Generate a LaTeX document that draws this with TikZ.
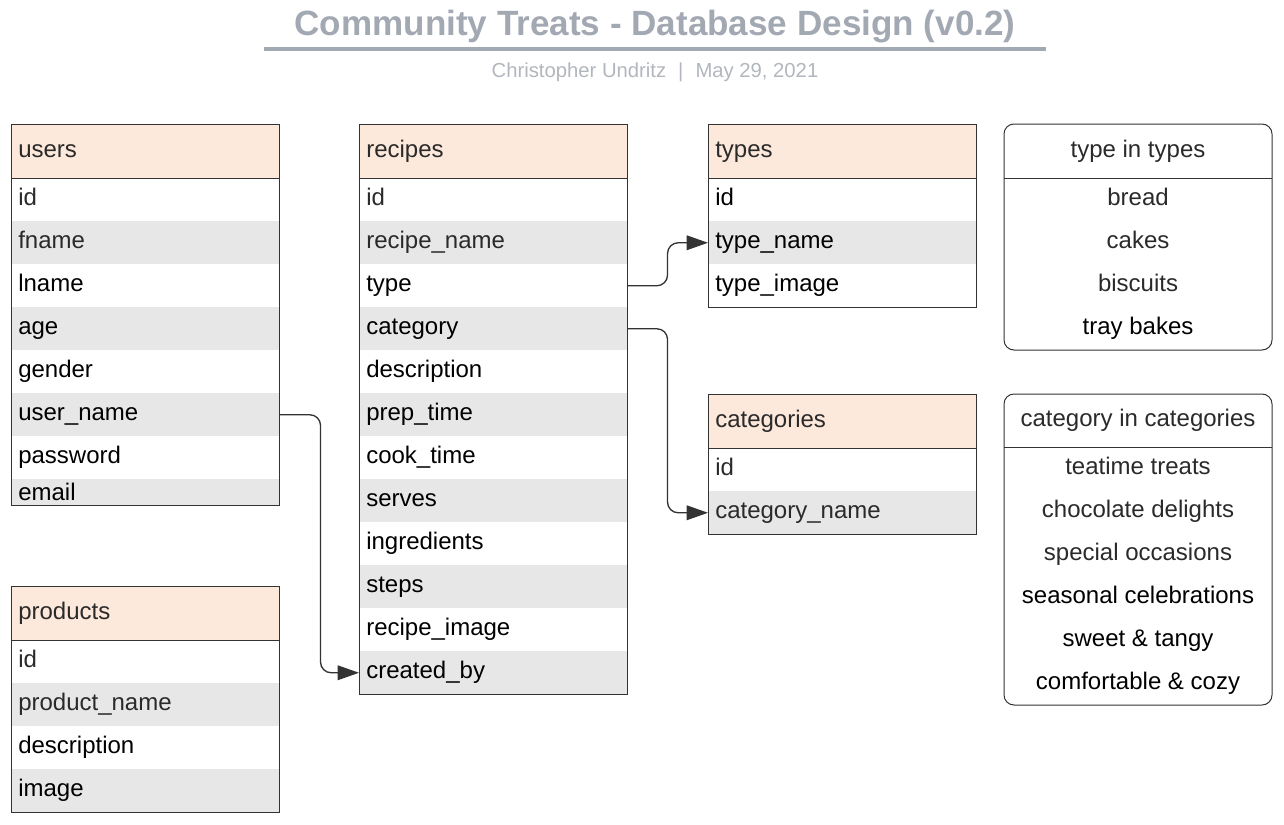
\documentclass[tikz,border=0pt]{standalone}
\usepackage{fontspec}
\setmainfont{Liberation Sans}
\usetikzlibrary{arrows.meta}

\definecolor{hdrfill}{HTML}{FDE9DB}
\definecolor{rowgray}{HTML}{E6E7E6}
\definecolor{dk}{HTML}{2A2A2A}
\definecolor{bk}{HTML}{000000}
\definecolor{edge}{HTML}{333333}
\definecolor{titlegray}{HTML}{A3A9B3}
\definecolor{subgray}{HTML}{B2B6BD}

\tikzset{
  fld/.style={anchor=north west, minimum width=201pt, minimum height=32.25pt,
    text width=190.5pt, align=left, inner xsep=5.25pt, inner ysep=0pt,
    text height=12pt, text depth=3.4pt, font=\fontsize{18}{21}\selectfont},
  hdr/.style={fld, fill=hdrfill, minimum height=40.5pt},
  frame/.style={draw=edge, line width=0.75pt},
  item/.style={anchor=center, inner sep=0pt, text height=12pt, text depth=3.4pt,
    font=\fontsize{18}{21}\selectfont},
  conn/.style={draw=edge, line width=1pt, rounded corners=8pt,
    -{Triangle[length=16pt,width=11pt]}},
}

% #1 name, #2 left x, #3 top y, #4 title, #5 rows as text/colour
\newcommand\dbtable[5]{%
  \node[hdr, text=dk] (#1-0) at (#2,#3) {#4};
  \foreach \t/\c [count=\i] in {#5} {%
    \ifodd\i \def\rowfill{white}\else\def\rowfill{rowgray}\fi
    \node[fld, fill=\rowfill, text=\c] (#1-\i) at ({#2},{#3+54+(\i-1)*43}) {\t};
  }%
}

\begin{document}
\begin{tikzpicture}[x=0.75pt, y=-0.75pt]
\useasboundingbox (0,0) rectangle (1284,824);

% heading
\node[font=\bfseries\fontsize{26.3}{30}\selectfont, text=titlegray] (title) at (655,27)
  {Community Treats - Database Design (v0.2)};
\coordinate (ruleL) at (264,49);
\coordinate (ruleR) at (1046,49);
\draw[titlegray, line width=3pt] (ruleL) -- (ruleR);
\node[font=\fontsize{15.2}{18}\selectfont, text=subgray] (byline) at (655,72)
  {Christopher Undritz\hspace{9pt}|\hspace{9pt}May 29, 2021};

% users
\dbtable{users}{11}{124}{users}{id/dk, fname/dk, lname/bk, age/bk, gender/bk,
  user\_name/bk, password/bk}
\node[fld, fill=rowgray, minimum height=19.5pt, text depth=0pt, text height=13pt] (users-8) at (11,479) {email};
\draw[frame] (users-0.north west) rectangle (users-8.south east);
\draw[frame] (users-0.south west) -- (users-0.south east);

% recipes
\dbtable{recipes}{359}{124}{recipes}{id/dk, recipe\_name/dk, type/bk, category/bk,
  description/bk, prep\_time/bk, cook\_time/bk, serves/bk, ingredients/bk,
  steps/bk, recipe\_image/bk, created\_by/bk}
\draw[frame] (recipes-0.north west) rectangle (recipes-12.south east);
\draw[frame] (recipes-0.south west) -- (recipes-0.south east);

% types
\dbtable{types}{708}{124}{types}{id/bk, type\_name/bk, type\_image/bk}
\draw[frame] (types-0.north west) rectangle (types-3.south east);
\draw[frame] (types-0.south west) -- (types-0.south east);

% categories
\dbtable{categories}{708}{394}{categories}{id/dk, category\_name/dk}
\draw[frame] (categories-0.north west) rectangle (categories-2.south east);
\draw[frame] (categories-0.south west) -- (categories-0.south east);

% products
\dbtable{products}{11}{586}{products}{id/dk, product\_name/dk, description/bk, image/bk}
\draw[frame] (products-0.north west) rectangle (products-4.south east);
\draw[frame] (products-0.south west) -- (products-0.south east);

% list of types
\draw[frame, rounded corners=7.5pt] (1004,124) rectangle (1272,350);
\draw[frame] (1004,178) -- (1272,178);
\node[item, text=dk] (tl-0) at (1138,152) {type in types};
\foreach \t/\c [count=\i] in {bread/dk, cakes/dk, biscuits/dk, tray bakes/bk}
  \node[item, text=\c] (tl-\i) at (1138,{156.5+\i*43}) {\t};

% list of categories
\draw[frame, rounded corners=7.5pt] (1004,394) rectangle (1272,705);
\draw[frame] (1004,447) -- (1272,447);
\node[item, text=dk] (cl-0) at (1138,421) {category in categories};
\foreach \t/\c [count=\i] in {teatime treats/dk, chocolate delights/dk,
  special occasions/dk, seasonal celebrations/bk, sweet \& tangy/bk,
  comfortable \& cozy/bk}
  \node[item, text=\c] (cl-\i) at (1138,{425.5+\i*43}) {\t};

% relations
\draw[conn] (recipes-3.east) -- ++(40,0) |- (types-2.west);
\draw[conn] (recipes-4.east) -- ++(40,0) |- (categories-2.west);
\draw[conn] (users-6.east) -- ++(41,0) |- (recipes-12.west);
\end{tikzpicture}
\end{document}
